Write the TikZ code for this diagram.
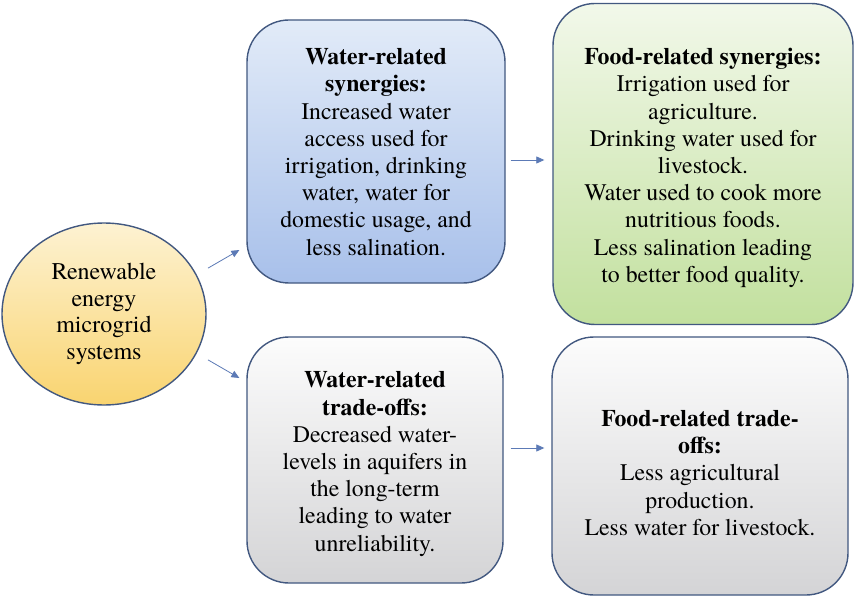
\documentclass[tikz,border=0pt]{standalone}
\usepackage{fontspec}
\setmainfont{texgyretermes}[Extension=.otf, UprightFont=*-regular, BoldFont=*-bold, ItalicFont=*-italic, BoldItalicFont=*-bolditalic]
\usetikzlibrary{arrows.meta,shapes.geometric,calc}
\definecolor{edgec}{RGB}{66,88,128}
\definecolor{arrc}{RGB}{92,122,182}
\definecolor{bluetop}{RGB}{226,235,248}
\definecolor{bluebot}{RGB}{168,192,234}
\definecolor{greentop}{RGB}{242,248,234}
\definecolor{greenbot}{RGB}{194,224,158}
\definecolor{graytop}{RGB}{252,252,252}
\definecolor{graybot}{RGB}{212,212,214}
\definecolor{yeltop}{RGB}{253,242,210}
\definecolor{yelbot}{RGB}{249,212,112}
\tikzset{
  boxst/.style={draw=edgec, line width=1.4pt, rounded corners=42pt, inner sep=0pt},
  txt/.style={inner sep=0pt, align=center, font=\fontsize{23.8}{27.2}\selectfont},
  arr/.style={draw=arrc, line width=0.8pt, -{Triangle[length=8pt,width=7pt]}},
}
\begin{document}
\begin{tikzpicture}[x=1pt,y=-1pt]
\useasboundingbox (0,0) rectangle (857,599);
\fill[white] (0,0) rectangle (857,599);
\node[ellipse, draw=edgec, line width=1.4pt, top color=yeltop, bottom color=yelbot,
  minimum width=204pt, minimum height=182pt, inner sep=0pt, align=center,
  font=\fontsize{24}{26.5}\selectfont] (e) at (104,314)
  {Renewable\\energy\\microgrid\\systems};
\node[boxst, top color=bluetop, bottom color=bluebot, minimum width=258pt, minimum height=263pt]
  (b1) at (376,151.5) {};
\node[txt] (b1t) at (376,152)
  {\textbf{Water-related}\\\textbf{synergies:}\\Increased water\\access used for\\irrigation, drinking\\water, water for\\domestic usage, and\\less salination.};
\node[boxst, top color=greentop, bottom color=greenbot, minimum width=300pt, minimum height=321pt]
  (f1) at (703,164) {};
\node[txt] (f1t) at (703,168)
  {\textbf{Food-related synergies:}\\Irrigation used for\\agriculture.\\Drinking water used for\\livestock.\\Water used to cook more\\nutritious foods.\\Less salination leading\\to better food quality.};
\node[boxst, top color=graytop, bottom color=graybot, minimum width=256pt, minimum height=246pt]
  (b2) at (375,460) {};
\node[txt] (b2t) at (375,464)
  {\textbf{Water-related}\\\textbf{trade-offs:}\\Decreased water-\\levels in aquifers in\\the long-term\\leading to water\\unreliability.};
\node[boxst, top color=graytop, bottom color=graybot, minimum width=296pt, minimum height=258pt]
  (f2) at (700,466) {};
\node[txt] (f2t) at (700,473)
  {\textbf{Food-related trade-}\\\textbf{offs:}\\Less agricultural\\production.\\Less water for livestock.};
\coordinate (t1) at (247,246);
\coordinate (t2) at (247,382);
\coordinate (h1) at (0,160);
\coordinate (h2) at (0,448);
\draw[arr, shorten <=13pt, shorten >=8pt] (e.23.6) -- (b1.west |- t1);
\draw[arr, shorten <=13pt, shorten >=8pt] (e.-23.6) -- (b2.west |- t2);
\draw[arr, shorten <=5pt, shorten >=8pt] (b1.east |- h1) -- (f1.west |- h1);
\draw[arr, shorten <=7pt, shorten >=7pt] (b2.east |- h2) -- (f2.west |- h2);
\end{tikzpicture}
\end{document}
